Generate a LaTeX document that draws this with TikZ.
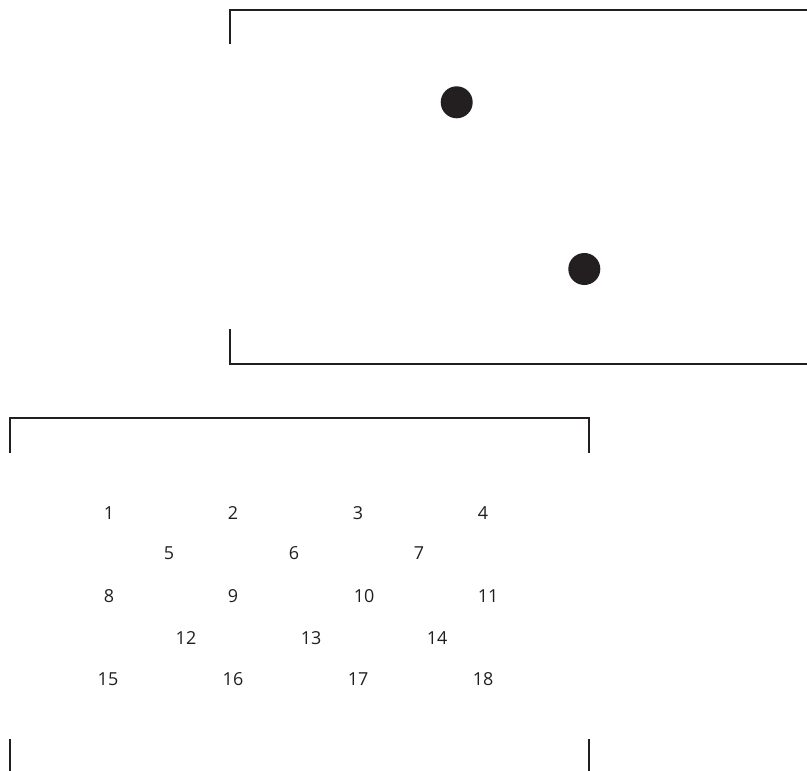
\documentclass[tikz,border=0pt]{standalone}
\usepackage{fontspec}
\setmainfont{Open Sans}
\definecolor{ink}{HTML}{231F20}
\begin{document}
\begin{tikzpicture}[x=1bp,y=-1bp,
  frame/.style={draw=ink,line width=2bp,line cap=butt,line join=miter},
  dot/.style={circle,fill=ink,draw=none,minimum size=32bp,inner sep=0pt},
  num/.style={text=ink,font=\fontsize{18}{20}\selectfont,inner sep=0pt,anchor=center}]
\useasboundingbox (0,0) rectangle (807,771);
% top panel
\draw[frame] (230,44) -- (230,10) -- (808,10);
\draw[frame] (230,329) -- (230,364) -- (808,364);
\node[dot] (d1) at (456.7,102.3) {};
\node[dot] (d2) at (584.3,269) {};
% bottom panel
\draw[frame] (10,453) -- (10,418) -- (589,418) -- (589,453);
\draw[frame] (10,739) -- (10,772);
\draw[frame] (589,739) -- (589,772);
% numbers
\node[num] (n1) at (109,513) {1};
\node[num] (n2) at (233,513) {2};
\node[num] (n3) at (358,513) {3};
\node[num] (n4) at (483,513) {4};
\node[num] (n5) at (169,553) {5};
\node[num] (n6) at (294,553) {6};
\node[num] (n7) at (419,553) {7};
\node[num] (n8) at (109,596) {8};
\node[num] (n9) at (233,596) {9};
\node[num] (n10) at (364,596) {10};
\node[num] (n11) at (488,596) {11};
\node[num] (n12) at (186,638) {12};
\node[num] (n13) at (311,638) {13};
\node[num] (n14) at (437,638) {14};
\node[num] (n15) at (108,679) {15};
\node[num] (n16) at (233,679) {16};
\node[num] (n17) at (358,679) {17};
\node[num] (n18) at (483,679) {18};
\end{tikzpicture}
\end{document}
